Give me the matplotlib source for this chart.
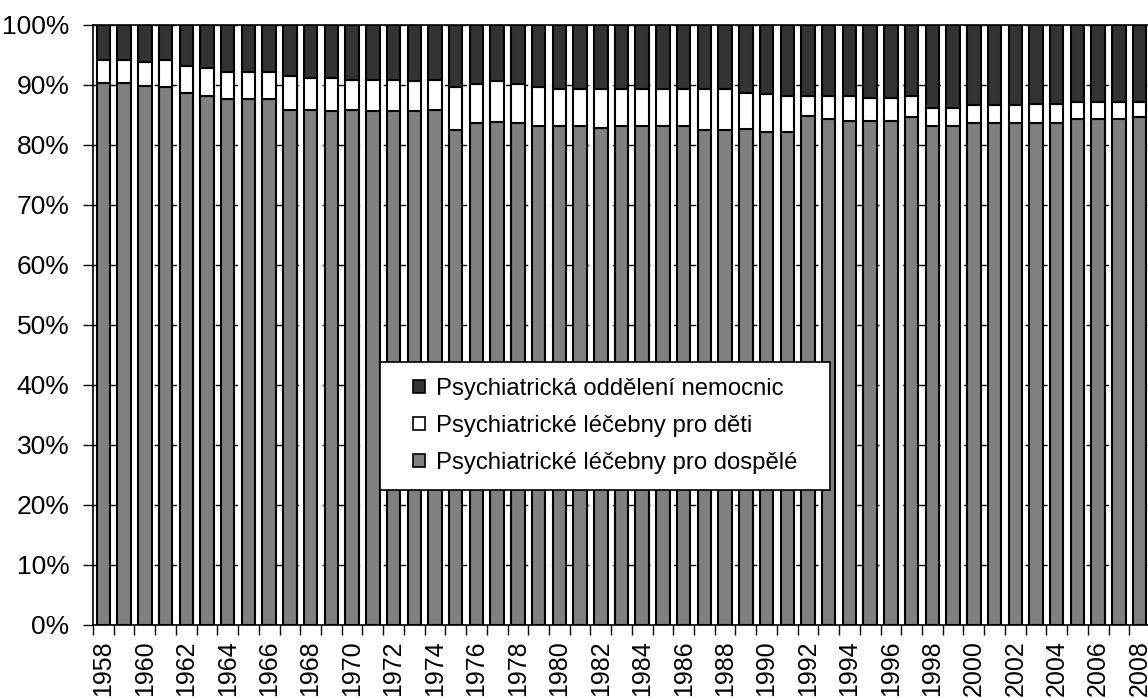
import numpy as np
import matplotlib
matplotlib.use("Agg")
import matplotlib.pyplot as plt
from matplotlib.patches import Patch, Rectangle

plt.rcParams['font.family'] = ['Liberation Sans', 'DejaVu Sans']

years = list(range(1958, 2009))

# podíl lůžek v %
adults = [90.3, 90.3, 89.9, 89.6, 88.6, 88.2, 87.7, 87.7, 87.7, 85.9,
          85.9, 85.6, 85.9, 85.6, 85.6, 85.6, 85.9, 82.5, 83.6, 83.9,
          83.6, 83.2, 83.2, 83.2, 82.9, 83.2, 83.2, 83.2, 83.2, 82.5,
          82.5, 82.6, 82.2, 82.2, 84.9, 84.3, 84.0, 84.0, 84.0, 84.6,
          83.2, 83.2, 83.6, 83.6, 83.6, 83.6, 83.6, 84.3, 84.3, 84.3,
          84.6]
children = [3.9, 3.9, 4.0, 4.6, 4.6, 4.6, 4.5, 4.5, 4.5, 5.6,
            5.3, 5.6, 4.9, 5.2, 5.2, 5.0, 4.9, 7.1, 6.6, 6.7,
            6.6, 6.4, 6.1, 6.1, 6.4, 6.1, 6.1, 6.1, 6.1, 6.8,
            6.8, 6.0, 6.3, 6.0, 3.3, 3.9, 4.2, 3.9, 3.9, 3.6,
            3.0, 3.0, 3.0, 3.0, 3.0, 3.2, 3.2, 2.9, 2.9, 2.9,
            2.6]
hospital = [5.8, 5.8, 6.1, 5.8, 6.8, 7.2, 7.8, 7.8, 7.8, 8.5,
            8.8, 8.8, 9.2, 9.2, 9.2, 9.4, 9.2, 10.4, 9.8, 9.4,
            9.8, 10.4, 10.7, 10.7, 10.7, 10.7, 10.7, 10.7, 10.7, 10.7,
            10.7, 11.4, 11.5, 11.8, 11.8, 11.8, 11.8, 12.1, 12.1, 11.8,
            13.8, 13.8, 13.4, 13.4, 13.4, 13.2, 13.2, 12.8, 12.8, 12.8,
            12.8]

labels = ["Psychiatrická oddělení nemocnic",
          "Psychiatrické léčebny pro děti",
          "Psychiatrické léčebny pro dospělé"]
colors = ["#333333", "#ffffff", "#808080"]

fig = plt.figure(figsize=(11.48, 6.98), dpi=100)
ax = fig.add_axes([93 / 1148, 73 / 698, 1057 / 1148, 600 / 698])

x = np.arange(len(years))
a = np.array(adults)
c = np.array(children)
h = np.array(hospital)

w = 0.65
ax.bar(x, a, w, color=colors[2], edgecolor="black", linewidth=1.5, zorder=3)
ax.bar(x, c, w, bottom=a, color=colors[1], edgecolor="black", linewidth=1.5, zorder=3)
ax.bar(x, h, w, bottom=a + c, color=colors[0], edgecolor="black", linewidth=1.5, zorder=3)

ax.set_xlim(-0.5, len(years) - 0.5)
ax.set_ylim(0, 100)

ax.set_yticks(np.arange(0, 101, 10))
ax.set_yticklabels([f"{v}%" for v in range(0, 101, 10)], fontsize=19)
ax.yaxis.grid(True, color="black", linewidth=1, linestyle=(0, (5, 6)), zorder=0)
ax.set_axisbelow(True)

ax.set_xticks(x[::2])
ax.set_xticklabels([str(y) for y in years[::2]], rotation=90, fontsize=18)
ax.set_xticks(np.arange(-0.5, len(years), 1), minor=True)
ax.tick_params(axis="x", which="major", length=0, pad=11)
ax.tick_params(axis="x", which="minor", length=7, width=1, color="black")
ax.tick_params(axis="y", length=7, width=1, pad=10)

ax.spines["right"].set_visible(False)
for s in ["left", "bottom", "top"]:
    ax.spines[s].set_color("black")
    ax.spines[s].set_linewidth(1.2)

# rámeček legendy
box = Rectangle((0.2715, 0.225), 0.4255, 0.213, transform=ax.transAxes,
                facecolor="white", edgecolor="black", linewidth=1.2,
                zorder=4, clip_on=False)
ax.add_patch(box)

handles = [Patch(facecolor=col, edgecolor="black", linewidth=1.2) for col in colors]
leg = ax.legend(handles, labels, loc="center left", bbox_to_anchor=(0.3027, 0.3317),
                fontsize=17.2, frameon=False, handlelength=0.5, handleheight=0.5,
                handletextpad=0.45, labelspacing=0.62, borderpad=0, borderaxespad=0)
leg.set_zorder(5)

fig.savefig("out.png", dpi=100)
